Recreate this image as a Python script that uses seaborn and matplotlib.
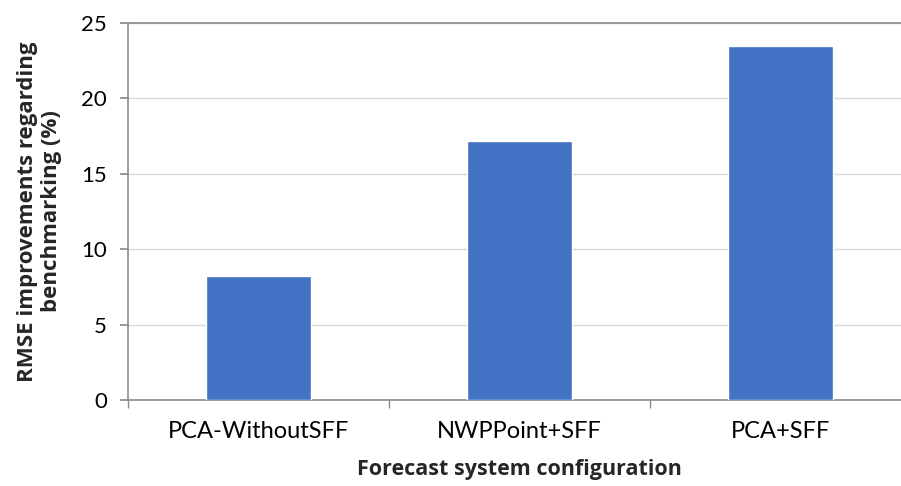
import matplotlib
matplotlib.use("Agg")
import matplotlib.pyplot as plt
import seaborn as sns
import pandas as pd
from matplotlib.ticker import FixedLocator

categories = ["PCA-WithoutSFF", "NWPPoint+SFF", "PCA+SFF"]
values = [8.2, 17.2, 23.5]
yticks = [0, 5, 10, 15, 20, 25]

sns.set_theme(style="white")
plt.rcParams['font.family'] = ['Lato', 'DejaVu Sans']

df = pd.DataFrame({"cfg": categories, "val": values})

fig = plt.figure(figsize=(9.01, 4.86), dpi=100)
ax = fig.add_axes([128/901, 86/486, 783/901, 377/486])
sns.barplot(data=df, x="cfg", y="val", color="#4472C4", saturation=1, width=0.4, ax=ax, zorder=3)

ax.set_xlim(-0.5, 2.5)
ax.set_ylim(0, 25)
ax.set_yticks(yticks)
ax.yaxis.grid(True, color="#D9D9D9", linewidth=1, zorder=0)
ax.set_axisbelow(True)

for s in ["left", "bottom", "top"]:
    ax.spines[s].set_visible(True)
    ax.spines[s].set_color("#8C8C8C")
    ax.spines[s].set_linewidth(1.2)
ax.spines["right"].set_visible(False)

ax.tick_params(axis="y", which="major", left=True, length=6, color="#8C8C8C", labelsize=16, pad=9, labelcolor="black")
ax.tick_params(axis="x", which="major", bottom=False, labelsize=17, pad=9, labelcolor="black")
ax.xaxis.set_minor_locator(FixedLocator([-0.5, 0.5, 1.5, 2.5]))
ax.tick_params(axis="x", which="minor", bottom=True, length=6, color="#8C8C8C")

lab_font = ['Open Sans', 'DejaVu Sans']
ax.set_xlabel("Forecast system configuration", fontsize=15.5, fontweight="bold", labelpad=12, family=lab_font)
ax.set_ylabel("RMSE improvements regarding\nbenchmarking (%)", fontsize=16, fontweight="bold", labelpad=14, linespacing=1.2, family=lab_font)

fig.savefig("out.png", dpi=100)
